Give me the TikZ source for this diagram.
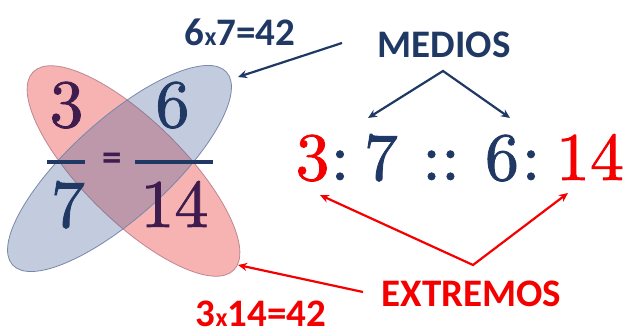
\documentclass[tikz,border=0pt]{standalone}
\usepackage{fontspec}
\newfontfamily\carlito{Carlito}
\newfontfamily\numfont[FakeBold=1.2]{lmroman10-regular.otf}
\usetikzlibrary{arrows.meta, positioning, calc}
\definecolor{navy}{RGB}{31,56,100}
\definecolor{plum}{RGB}{62,28,78}
\definecolor{brightred}{RGB}{245,0,0}
\definecolor{pinkfill}{RGB}{247,178,178}
\definecolor{pinkline}{RGB}{190,135,145}
\definecolor{bluefill}{RGB}{67,97,155}
\definecolor{blueline}{RGB}{120,135,170}

\begin{document}
\begin{tikzpicture}[x=1pt, y=1pt,
    tag/.style={font=\carlito\bfseries\fontsize{39}{42}\selectfont, inner sep=0pt},
    num/.style={font=\numfont\fontsize{68}{70}\selectfont, inner sep=0pt, anchor=base},
    arr/.style={line width=2.2pt, -{Stealth[length=9pt, width=8pt]}},
    twoarr/.style={line width=2.2pt, {Stealth[length=9pt, width=8pt]}-{Stealth[length=9pt, width=8pt]}}]
    \useasboundingbox (0,0) rectangle (631,331);

    % Ellipses
    \draw[draw=pinkline, fill=pinkfill, line width=0.8pt, shift={(133.5,160)}, rotate=-44.6]
        (0,0) ellipse [x radius=141pt, y radius=50pt];
    \draw[draw=blueline, fill=bluefill, fill opacity=0.32, line width=0.8pt, shift={(119.5,162.5)}, rotate=42]
        (0,0) ellipse [x radius=144pt, y radius=49pt];

    % Fractions
    \node[num, text=plum] (a3) at (66.5,204) {3};
    \node[num, text=navy] (a6) at (172.5,204) {6};
    \node[num, text=navy] (a7) at (68,104) {7};
    \node[num, text=plum] (a14) at (174.5,104) {14};
    \draw[navy, line width=4pt] (47,169) -- (85,169);
    \draw[navy, line width=4pt] (135,169) -- (213,169);
    \node[tag, text=plum] (eq) at (112,169) {=};

    % Proportion
    \node[num, text=brightred] (b3) at (312.5,151) {3};
    \node[num, text=navy] (c1) at (340,151) {:};
    \node[num, text=navy] (b7) at (381,151) {7};
    \node[num, text=navy] (cc) at (441,151) {::};
    \node[num, text=navy] (b6) at (502,151) {6};
    \node[num, text=navy] (c2) at (531,151) {:};
    \node[num, text=brightred] (b14) at (590,151) {14};

    % Labels
    \node[tag, text=navy] (prodm) at (240,299) {6{\fontsize{26}{28}\selectfont x}7=42};
    \node[tag, text=navy] (medios) at (444,286) {MEDIOS};
    \node[tag, text=brightred] (extremos) at (471.5,37) {EXTREMOS};
    \node[tag, text=brightred, anchor=base] (prode) at (261,4) {3{\fontsize{26}{28}\selectfont x}14=42};

    % Arrows
    \coordinate (mtop) at (443,260);
    \coordinate (mleft) at (368,213);
    \coordinate (mright) at (510,213);
    \draw[twoarr, navy] (mleft) -- (mtop) -- (mright);

    \coordinate (ebot) at (473,66);
    \coordinate (eleft) at (320,136);
    \coordinate (eright) at (568,138);
    \draw[twoarr, brightred] (eleft) -- (ebot) -- (eright);

    \coordinate (pmfrom) at (342,288);
    \coordinate (pmto) at (238,254);
    \draw[arr, navy] (pmfrom) -- (pmto);

    \coordinate (pefrom) at (363,39);
    \coordinate (peto) at (238,66);
    \draw[arr, brightred] (pefrom) -- (peto);

\end{tikzpicture}
\end{document}
